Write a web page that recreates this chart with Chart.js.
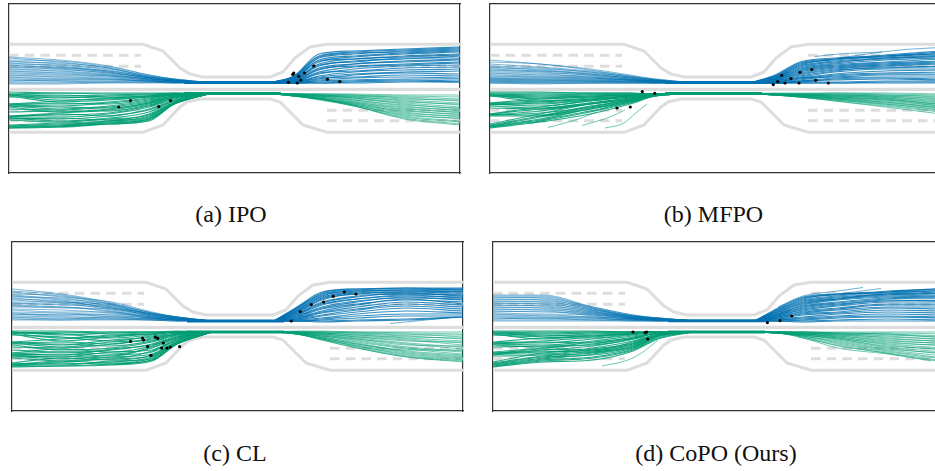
<!DOCTYPE html>
<html><head><meta charset="utf-8">
<style>
html,body{margin:0;padding:0;background:#fff;width:935px;height:471px;overflow:hidden}
.p{position:absolute;width:461px;height:179px}
.c{position:absolute;font-family:"Liberation Serif",serif;font-size:24px;line-height:24px;color:#111;white-space:nowrap;transform:translateX(-50%)}
</style>
<script src="https://cdn.jsdelivr.net/npm/chart.js@4"></script>
</head><body>
<div class="p" style="left:4px;top:-1px"><canvas id="a" width="461" height="179"></canvas></div>
<div class="p" style="left:485px;top:-1px"><canvas id="b" width="461" height="179"></canvas></div>
<div class="p" style="left:7px;top:237px"><canvas id="c" width="461" height="179"></canvas></div>
<div class="p" style="left:488px;top:237px"><canvas id="d" width="461" height="179"></canvas></div>
<div class="c" style="left:231px;top:202px">(a) IPO</div>
<div class="c" style="left:713.5px;top:202px">(b) MFPO</div>
<div class="c" style="left:235px;top:441px">(c) CL</div>
<div class="c" style="left:716px;top:441px">(d) CoPO (Ours)</div>
<script>
const leftXs=[0,50,100,140,165,200];
const rightXs=[262,285,310,345,395,451];
const roadTopX=[0,134,154,171,181,194,261,274,286,301,318,451];
const roadTopY=[40.3,40.3,47,64,70,73,73,68,54,43,40.3,40.3];
const roadBotX=[0,134,154,171,178,191,261,271,294,318,451];
const roadBotY=[128.3,128.3,121,103,98,95,95,98,121,128.3,128.3];
const centerX=[0,451];
const centerY=[85.3,85.3];
const dashLeftX=[0,132];
const dashRightX=[318,451];
const dashLeftRows=[51.3,62.3,106.3,116.8];
const dashRightRows=[51.3,62.3,106.3,116.8];

const aBlueLeft=[[53,56,62,71,75],[54,58,64,72,75],[56,57,63,71,75],[57,60,65,72,76],[58,59,64,73,76],[59,62,67,73,76],[60,61,66,73,76],[61,64,68,74,76],[62,63,68,74,77],[63,65,69,74,77],[64,64,67,73,76],[65,67,70,75,77],[66,66,69,74,77],[67,69,71,75,77],[68,68,71,75,77],[69,70,72,76,78],[70,71,72,75,77],[71,73,74,76,78],[72,72,73,76,78],[73,75,75,77,78],[74,74,75,77,78],[75,76,76,77,78],[76,77,78,78,78],[77,76,76,77,78],[78,78,78,78,79],[79,79,78,78,79],[80,80,79,79,79]];
const aBlueRight=[[72,50,47,45,43],[72,52,48,46,44],[73,54,50,47,45],[73,53,49,48,46],[74,56,52,49,47],[74,58,53,50,48],[74,57,55,52,50],[75,60,55,53,51],[75,62,57,55,52],[76,61,58,54,54],[76,64,60,57,55],[76,66,60,58,56],[77,65,62,60,58],[77,68,63,61,59],[77,70,65,62,61],[78,69,67,64,63],[78,72,68,66,65],[78,73,70,68,67],[78,75,71,69,70],[79,74,73,71,72],[79,76,74,73,74],[79,77,76,75,75],[79,78,77,76,77],[79,79,78,77,78],[79,79,79,78,78]];
const aGreenLeft=[[88,89,89,89,89],[90,89,90,90,89],[90,92,91,90,90],[91,94,92,91,90],[91,91,93,92,90],[91,96,95,93,91],[92,98,96,93,91],[93,93,94,92,90],[100,97,94,92,90],[100,100,98,94,91],[101,102,99,95,91],[101,99,100,96,92],[102,105,102,97,92],[102,103,104,99,93],[103,108,105,99,93],[105,106,103,98,92],[108,107,107,101,94],[112,109,106,100,93],[112,111,109,102,94],[113,113,110,103,95],[113,110,112,105,96],[114,115,112,106,97],[114,117,114,108,97],[115,114,116,110,98],[116,118,115,111,99],[121,119,117,112,99],[122,121,118,114,100],[122,120,119,115,100],[123,122,117,113,99],[123,123,120,116,100],[124,122,120,117,100],[124,123,119,115,100]];
const aGreenRight=[[90,90,90,91,91],[90,90,91,92,93],[90,91,92,93,95],[90,90,91,94,97],[90,91,92,95,96],[90,91,93,96,99],[91,92,93,97,101],[90,91,94,98,100],[90,92,95,99,103],[91,92,94,100,105],[91,93,96,101,104],[91,92,96,102,107],[91,93,97,103,106],[91,94,98,104,109],[91,93,98,105,108],[91,94,99,106,111],[92,94,100,107,110],[91,95,99,108,113],[92,95,100,109,112],[92,94,101,110,115],[92,95,101,111,114],[92,95,101,112,117],[92,95,102,113,118],[92,95,102,114,120],[92,96,102,115,121]];

const bBlueLeft=[[56,60,65,71,75],[58,60,66,72,75],[60,63,67,72,76],[62,64,68,73,76],[63,66,69,73,76],[64,65,68,73,76],[65,67,70,74,76],[66,68,71,74,77],[67,67,70,74,77],[68,69,71,75,77],[69,71,72,75,77],[70,70,73,75,77],[71,72,73,76,77],[72,73,74,76,77],[73,73,74,76,78],[74,75,75,76,78],[74,74,75,76,77],[75,75,76,77,78],[75,76,76,77,78],[76,76,77,77,78],[76,77,77,78,78],[77,77,77,78,78],[77,78,78,78,79],[78,78,78,78,79],[78,79,79,79,79],[79,79,79,79,79],[79,80,79,79,79]];
const bBlueRight=[[71,58,54,52,48],[72,59,55,51,47],[72,60,56,52,50],[73,61,55,53,49],[73,62,57,54,51],[74,63,58,55,52],[74,64,59,54,53],[75,65,60,56,54],[75,66,61,58,55],[75,67,62,59,57],[76,68,63,60,58],[76,69,64,61,59],[76,70,65,62,60],[77,71,66,64,62],[77,72,67,63,63],[77,73,68,65,65],[78,74,70,67,66],[78,75,71,69,68],[78,76,72,70,70],[78,74,73,71,71],[79,77,74,73,73],[79,78,75,74,75],[79,77,76,75,76],[79,78,78,77,77],[79,79,79,78,78],[79,79,79,79,79]];
const bGreenLeft=[[88,88,89,89,90],[89,89,89,89,90],[90,91,90,90,90],[90,90,90,90,90],[91,92,91,90,90],[91,93,92,91,90],[91,95,93,91,90],[92,94,92,91,90],[92,97,94,92,90],[99,95,93,91,90],[99,97,95,92,90],[100,98,95,92,90],[100,100,96,92,91],[100,102,97,93,91],[101,99,96,93,91],[102,104,99,94,91],[104,105,100,95,91],[110,103,97,93,91],[110,105,99,94,91],[111,107,100,95,91],[111,109,103,96,91],[111,111,104,97,91],[112,112,105,98,92],[120,110,100,95,91],[121,112,102,96,91],[122,113,103,96,91],[122,115,105,97,91],[123,116,107,98,92],[123,117,108,99,92],[124,118,110,100,92]];
const bGreenRight=[[89,89,89,89,90],[90,90,89,90,91],[90,90,90,91,92],[90,90,90,91,93],[90,90,91,92,94],[90,90,91,92,95],[90,91,91,93,96],[90,91,92,93,97],[90,91,92,94,98],[90,91,92,94,99],[90,91,93,95,100],[91,91,93,95,101],[90,92,93,96,100],[91,92,94,96,102],[91,92,94,97,102],[91,92,94,98,103],[91,92,95,98,104],[91,92,95,99,104],[91,93,95,100,105],[91,93,96,100,106],[91,93,96,101,107],[91,93,97,102,108],[91,93,97,103,110]];

const cBlueLeft=[[47,52,61,71,75],[49,53,62,71,75],[50,55,60,70,75],[52,54,63,72,75],[53,57,62,71,75],[54,58,64,72,76],[55,56,65,72,76],[56,60,63,73,76],[57,59,66,72,76],[58,61,65,73,76],[60,60,67,73,76],[61,63,66,74,77],[62,62,68,74,77],[63,65,69,75,77],[64,66,67,74,77],[65,65,70,75,77],[67,68,71,75,77],[68,70,70,76,78],[70,71,73,76,78],[71,73,72,76,78],[72,74,74,76,78],[73,72,75,77,78],[74,75,76,77,78],[75,77,75,77,78],[76,76,77,78,79],[77,78,77,78,79],[78,78,78,78,79]];
const cBlueRight=[[65,50,47,46,46],[66,51,47,47,47],[66,52,48,46,48],[67,53,49,48,47],[68,54,49,49,49],[68,55,50,48,50],[69,56,51,50,49],[70,57,52,50,51],[70,58,52,52,52],[71,60,54,52,53],[72,61,55,51,54],[72,62,57,54,55],[73,63,57,53,56],[74,65,59,56,57],[74,66,60,55,58],[75,67,62,58,60],[76,69,63,57,62],[76,70,65,60,63],[77,71,67,62,65],[77,73,68,64,67],[78,74,70,66,69],[78,76,72,69,71],[79,77,74,72,72],[79,78,76,74,74],[79,79,78,77,75],[79,80,79,78,75]];
const cGreenLeft=[[89,89,90,90,89],[90,91,90,90,90],[90,93,91,90,90],[91,90,92,91,90],[91,96,93,92,90],[91,92,96,93,90],[92,99,95,92,90],[93,95,99,94,91],[100,97,94,92,90],[100,103,98,95,91],[101,100,102,96,92],[101,105,100,98,92],[102,102,104,99,93],[103,108,106,100,93],[105,106,102,97,92],[108,110,108,102,94],[111,107,110,104,95],[112,113,107,103,95],[112,110,112,106,96],[113,115,110,108,97],[113,112,114,105,96],[114,117,113,110,98],[115,114,116,109,98],[116,119,115,112,99],[121,116,118,113,100],[122,120,117,114,100],[122,122,120,115,101],[123,119,121,116,101],[123,123,119,117,101],[124,121,122,118,102],[124,124,123,119,102],[125,124,122,118,102]];
const cGreenRight=[[89,89,90,90,90],[90,90,90,91,92],[90,90,91,92,95],[90,90,91,93,93],[90,91,92,94,97],[90,91,93,96,99],[90,91,93,95,96],[90,92,94,97,101],[91,92,95,98,103],[91,92,95,99,100],[91,93,96,101,105],[91,93,97,102,107],[91,94,97,103,104],[91,94,98,105,109],[91,94,99,106,110],[91,95,100,107,112],[91,95,101,108,108],[91,96,102,109,113],[92,96,102,110,114],[92,96,103,111,115],[92,97,104,112,116],[92,97,104,113,117],[92,97,105,114,118],[92,98,106,115,119],[92,98,106,115,120]];

const dBlueLeft=[[53,53,65,73,76],[54,54,66,74,76],[55,56,65,73,76],[56,55,67,74,76],[57,58,66,74,76],[58,57,68,74,77],[59,60,67,75,77],[60,59,69,75,77],[61,62,68,75,77],[62,61,70,75,77],[63,64,69,76,77],[64,63,71,75,77],[65,66,70,76,77],[66,65,72,76,78],[67,68,71,76,78],[68,67,73,76,78],[69,70,72,77,78],[70,69,74,77,78],[71,72,73,77,78],[72,74,75,77,78],[73,73,75,77,78],[74,75,76,78,78],[75,76,76,78,78],[76,77,77,78,79],[77,76,78,78,79],[78,78,78,79,79],[79,79,79,79,79]];
const dBlueRight=[[66,55,52,50,46],[67,56,53,49,47],[68,57,52,51,48],[68,58,54,50,49],[69,59,55,52,50],[70,60,56,53,51],[70,61,57,52,52],[71,62,57,54,53],[72,63,58,55,54],[72,64,60,56,55],[73,65,61,57,56],[73,66,62,59,58],[74,67,63,58,59],[74,68,64,60,60],[75,69,66,62,62],[75,70,67,63,63],[76,71,68,65,65],[76,72,70,66,67],[77,73,71,68,69],[77,75,72,70,71],[78,76,74,72,73],[78,77,75,74,75],[79,78,76,75,76],[79,79,78,77,78],[79,80,79,79,79]];
const dGreenLeft=[[89,89,89,90,90],[90,90,90,90,90],[90,91,90,90,90],[91,92,91,90,90],[91,94,92,91,90],[92,93,94,91,90],[92,97,93,92,90],[93,95,96,92,90],[100,96,94,91,90],[101,99,95,92,90],[101,101,97,93,90],[102,103,99,94,91],[102,100,101,95,91],[103,105,100,96,91],[105,104,103,97,91],[110,106,102,96,91],[111,108,104,97,91],[111,110,106,99,92],[112,107,108,100,92],[112,112,107,101,92],[113,109,110,102,93],[114,113,109,103,93],[120,111,108,102,93],[121,114,111,104,93],[122,116,110,105,94],[122,115,113,106,94],[123,117,112,105,94],[124,118,115,107,95],[124,119,116,108,96],[125,120,118,109,97]];
const dGreenRight=[[90,90,90,90,90],[90,90,91,91,92],[90,90,91,92,94],[90,90,91,92,96],[90,91,92,93,95],[90,91,92,94,98],[90,91,93,95,97],[90,91,92,96,100],[90,91,93,97,99],[91,92,94,98,102],[91,92,94,99,101],[91,92,95,100,104],[91,92,95,101,103],[91,92,96,102,106],[91,93,96,103,108],[91,93,97,104,107],[91,93,97,105,110],[91,93,98,106,112],[91,94,99,107,111],[91,94,100,108,114],[91,94,101,109,116],[91,95,102,110,117],[91,95,104,111,119],[91,96,106,112,120]];

const aNeck=[78.5,89.6], bNeck=[78.5,89.6], cNeck=[79,90], dNeck=[78.8,90];
const neckXs=[175,200,262,272];

const bBlueStray=[[325,52.5,355,49.5,392,48,415,45.5,451,43.5],[352,53.5,392,48]];
const bGreenStray=[[58,123.5,90,114.5,107,108],[92,121.5,120,113,135,106],[115,124,133,119.5,147,108,157,100],[40,120,73,111]];
const cBlueStray=[[378,81.5,445,75]];
const dBlueStray=[[285,65,310,54,345,49,370,45.5],[310,56,345,52,388,46.5]];
const dGreenStray=[[109,124,135,118,150,110,165,98]];
const dGreenRightStray=[[305,95,328,100,361,106,395,111.5,438,119]];

const aDotsX=[109.8,121.5,149.8,161.5,283.8,284.8,289.8,295.5,304.8,291.8,279.5,288.2,318.5,330.8];
const aDotsY=[103,96.6,102.6,96.6,70.3,69,72.3,69,62,76,78.3,79,75.3,77.6];
const bDotsX=[152.3,164.7,127,140.3,291.7,287.7,283.3,295,301,309,310,321.7,325.7,338.3];
const bDotsY=[87.6,89.3,104,103,71.3,77.6,80.6,79,74.6,79,68.3,65.6,76.3,79];
const cDotsX=[118.6,130.6,131.6,135.6,143.3,145.6,139,151.3,149.6,155,158.3,167.6,279.3,288.3,299.3,311.6,321.3,332.3,344];
const cDotsY=[99.3,96,98,104.6,95,96.3,113.3,101,106,106,105,104.6,79,69.6,62.6,60,54.3,50,52];
const dDotsX=[140,152.3,153.7,154.7,274.4,287,298.7];
const dDotsY=[90,90.6,90,97,80.6,78.6,74];

const BLUE='0,114,178', GREEN='0,158,115', ROAD='#dddddd';
const zip=(xs,ys)=>xs.map((x,i)=>({x,y:ys[i]}));
const flat=r=>{const o=[];for(let i=0;i<r.length;i+=2)o.push({x:r[i],y:r[i+1]});return o;};
const roadLine=(data,dash,w)=>({data,borderColor:ROAD,borderWidth:w,borderDash:dash,pointRadius:0,order:5,tension:0,borderCapStyle:'butt'});
const traj=(data,rgb,a,w)=>({data,borderColor:`rgba(${rgb},${a})`,borderWidth:w,pointRadius:0,order:2,cubicInterpolationMode:'monotone',borderCapStyle:'butt'});

function panel(id,s,neck,dx,dy,strays){
  const ds=[
    roadLine(zip(roadTopX,roadTopY),[],3),
    roadLine(zip(roadBotX,roadBotY),[],3),
    roadLine(zip(centerX,centerY),[],3.2)
  ];
  dashLeftRows.forEach(y=>ds.push(roadLine(dashLeftX.map(x=>({x,y})),[9.5,6.2],3)));
  dashRightRows.forEach(y=>ds.push(roadLine(dashRightX.map(x=>({x,y})),[9.5,6.2],3)));
  s[0].forEach(r=>ds.push(traj(zip(leftXs,[...r,neck[0]]),BLUE,.5,1)));
  s[1].forEach(r=>ds.push(traj(zip(rightXs,[neck[0],...r]),BLUE,.8,1.2)));
  s[2].forEach(r=>ds.push(traj(zip(leftXs,[...r,neck[1]]),GREEN,.85,1.2)));
  s[3].forEach(r=>ds.push(traj(zip(rightXs,[neck[1],...r]),GREEN,.55,1)));
  strays.forEach(([arr,rgb])=>arr.forEach(r=>ds.push(traj(flat(r),rgb,.8,.7))));
  ds.push({data:neckXs.map(x=>({x,y:neck[0]})),borderColor:`rgb(${BLUE})`,borderWidth:3,pointRadius:0,order:2});
  ds.push({data:neckXs.map(x=>({x,y:neck[1]})),borderColor:`rgb(${GREEN})`,borderWidth:3,pointRadius:0,order:2});
  ds.push({type:'scatter',data:zip(dx,dy),backgroundColor:'#000',pointRadius:1.6,borderWidth:0,order:0});
  const axis=(position,extra)=>Object.assign({position,ticks:{display:false},grid:{display:false,drawTicks:false},border:{display:true,color:'#333',width:1.2}},extra);
  const xr={type:'linear',min:0,max:451};
  const yr={type:'linear',min:0,max:169,reverse:true};
  new Chart(document.getElementById(id),{type:'line',data:{datasets:ds},options:{
    responsive:false,animation:false,
    layout:{padding:5,autoPadding:false},
    plugins:{legend:{display:false},tooltip:{enabled:false}},
    scales:{
      x:axis('bottom',xr),
      xTop:axis('top',xr),
      y:axis('left',yr),
      yRight:axis('right',yr)
    }
  }});
}
panel('a',[aBlueLeft,aBlueRight,aGreenLeft,aGreenRight],aNeck,aDotsX,aDotsY,[]);
panel('b',[bBlueLeft,bBlueRight,bGreenLeft,bGreenRight],bNeck,bDotsX,bDotsY,[[bBlueStray,BLUE],[bGreenStray,GREEN]]);
panel('c',[cBlueLeft,cBlueRight,cGreenLeft,cGreenRight],cNeck,cDotsX,cDotsY,[[cBlueStray,BLUE]]);
panel('d',[dBlueLeft,dBlueRight,dGreenLeft,dGreenRight],dNeck,dDotsX,dDotsY,[[dBlueStray,BLUE],[dGreenStray,GREEN],[dGreenRightStray,GREEN]]);
</script>
</body></html>
